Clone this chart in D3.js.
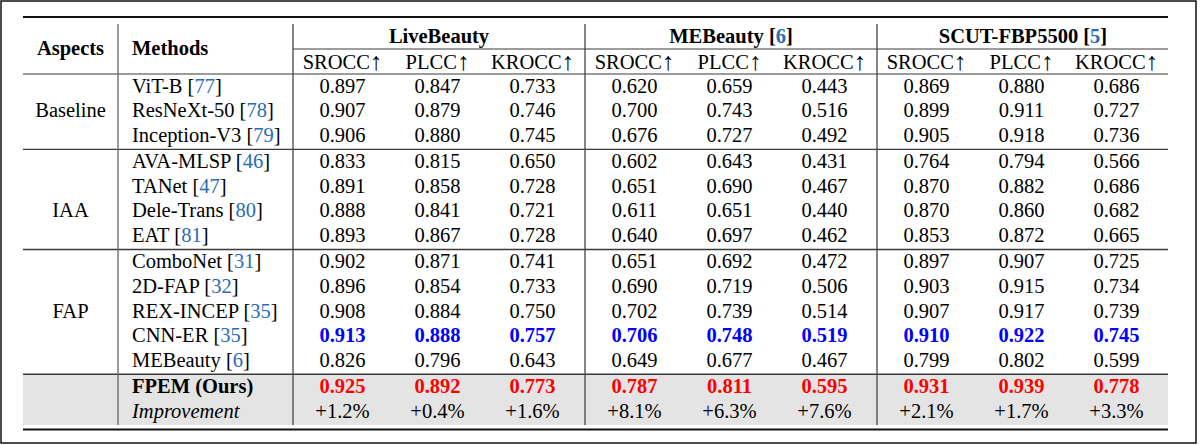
<!DOCTYPE html>
<html><head><meta charset="utf-8">
<script src="https://cdn.jsdelivr.net/npm/d3@7/dist/d3.min.js"></script>
<style>
html,body{margin:0;padding:0;background:#fff;}
svg{display:block;}
text{font-family:"Liberation Serif","Times New Roman",serif;font-size:20.5px;fill:#000;}
</style></head>
<body>
<script>
// ---------- data ----------
const datasets = ["LiveBeauty", "MEBeauty", "SCUT-FBP5500"];
const datasetCites = [null, "6", "5"];
const metrics = ["SROCC", "PLCC", "KROCC"];
const arrow = "↑";
const aspects = ["Baseline", "IAA", "FAP"];
const aspectSizes = [3, 4, 5];
const aspectLabelRow = [1, 2, 2];
const methods = ["ViT-B", "ResNeXt-50", "Inception-V3", "AVA-MLSP", "TANet", "Dele-Trans", "EAT",
  "ComboNet", "2D-FAP", "REX-INCEP", "CNN-ER", "MEBeauty"];
const methodCites = ["77", "78", "79", "46", "47", "80", "81", "31", "32", "35", "35", "6"];
const oursName = "FPEM (Ours)";
const improvementName = "Improvement";

const liveSROCC = [0.897, 0.907, 0.906, 0.833, 0.891, 0.888, 0.893, 0.902, 0.896, 0.908, 0.913, 0.826];
const livePLCC  = [0.847, 0.879, 0.880, 0.815, 0.858, 0.841, 0.867, 0.871, 0.854, 0.884, 0.888, 0.796];
const liveKROCC = [0.733, 0.746, 0.745, 0.650, 0.728, 0.721, 0.728, 0.741, 0.733, 0.750, 0.757, 0.643];
const meSROCC   = [0.620, 0.700, 0.676, 0.602, 0.651, 0.611, 0.640, 0.651, 0.690, 0.702, 0.706, 0.649];
const mePLCC    = [0.659, 0.743, 0.727, 0.643, 0.690, 0.651, 0.697, 0.692, 0.719, 0.739, 0.748, 0.677];
const meKROCC   = [0.443, 0.516, 0.492, 0.431, 0.467, 0.440, 0.462, 0.472, 0.506, 0.514, 0.519, 0.467];
const scutSROCC = [0.869, 0.899, 0.905, 0.764, 0.870, 0.870, 0.853, 0.897, 0.903, 0.907, 0.910, 0.799];
const scutPLCC  = [0.880, 0.911, 0.918, 0.794, 0.882, 0.860, 0.872, 0.907, 0.915, 0.917, 0.922, 0.802];
const scutKROCC = [0.686, 0.727, 0.736, 0.566, 0.686, 0.682, 0.665, 0.725, 0.734, 0.739, 0.745, 0.599];
const oursValues = [0.925, 0.892, 0.773, 0.787, 0.811, 0.595, 0.931, 0.939, 0.778];
const improvements = ["+1.2%", "+0.4%", "+1.6%", "+8.1%", "+6.3%", "+7.6%", "+2.1%", "+1.7%", "+3.3%"];
const secondBestRow = 10; // CNN-ER

const columns = [liveSROCC, livePLCC, liveKROCC, meSROCC, mePLCC, meKROCC, scutSROCC, scutPLCC, scutKROCC];

// ---------- layout ----------
const W = 1200, H = 445;
const L = 23, R = 1168;
const xAspectR = 118, xMethodR = 293;
const headerBottom = 74;
const pitch = 24.7, firstOff = 11.5, lastPad = 14.5;
const citeColor = "#2b6cb5", blue = "#0000ff", red = "#ff0000";
const lineColor = "#3a3a3a";

const svg = d3.select("body").append("svg").attr("width", W).attr("height", H);

// dataset / metric scales
const xGroup = d3.scaleBand().domain(datasets).range([xMethodR, R + 1]);
const xMetric = d3.scaleBand().domain(metrics).range([2, xGroup.bandwidth() - 5]);
const colX = (ci) => xGroup(datasets[Math.floor(ci / 3)]) + xMetric(metrics[ci % 3]) + xMetric.bandwidth() / 2;

// row y positions
const groupTops = [];
const rowY = [];
let curTop = headerBottom;
aspectSizes.forEach((n, g) => {
  groupTops.push(curTop);
  const ys = d3.scaleLinear().domain([0, 1]).range([curTop + firstOff, curTop + firstOff + pitch]);
  for (let i = 0; i < n; i++) rowY.push(ys(i));
  curTop = ys(n - 1) + lastPad;
});
const oursTop = curTop;
const ysOurs = d3.scaleLinear().domain([0, 1]).range([oursTop + firstOff, oursTop + firstOff + pitch]);
const oursY = ysOurs(0), impY = ysOurs(1);
const grayBottom = impY + lastPad;

// outer frame
svg.append("rect").attr("x", 1).attr("y", 1).attr("width", 1195).attr("height", 442)
  .attr("fill", "none").attr("stroke", "#111").attr("stroke-width", 1.5);

// gray background for ours
svg.append("rect").attr("x", L).attr("y", oursTop).attr("width", R - L).attr("height", grayBottom - oursTop)
  .attr("fill", "#e4e4e4");

// horizontal rules
const hline = (y, x1, x2, w, c) => svg.append("line").attr("x1", x1).attr("x2", x2).attr("y1", y).attr("y2", y)
  .attr("stroke", c).attr("stroke-width", w);
hline(17, L, R, 2, "#111");
hline(49, xMethodR, R, 1, lineColor);
hline(headerBottom, L, R, 1.2, lineColor);
groupTops.slice(1).forEach(t => hline(t, L, R, 1.4, lineColor));
hline(oursTop, L, R, 1.4, lineColor);
hline(429.5, L, R, 2.2, "#111");

// vertical rules
const vx = [xAspectR, xMethodR, xGroup(datasets[1]), xGroup(datasets[2])];
vx.forEach((x, i) => svg.append("line").attr("x1", x).attr("x2", x).attr("y1", 24).attr("y2", grayBottom)
  .attr("stroke", i === 0 ? "#666" : "#444").attr("stroke-width", 1.3));

// header text
const txt = (x, y, anchor) => svg.append("text").attr("x", x).attr("y", y).attr("dy", "0.35em").attr("text-anchor", anchor);
txt((L + xAspectR) / 2, 48, "middle").attr("font-weight", "bold").text("Aspects");
txt(132, 48, "start").attr("font-weight", "bold").text("Methods");
datasets.forEach((d, i) => {
  const t = txt(xGroup(d) + xGroup.bandwidth() / 2, 36, "middle").attr("font-weight", "bold");
  t.append("tspan").text(d);
  if (datasetCites[i]) {
    t.append("tspan").text(" [");
    t.append("tspan").style("fill", citeColor).text(datasetCites[i]);
    t.append("tspan").text("]");
  }
  metrics.forEach((m, j) => {
    const s = txt(colX(i * 3 + j), 61.5, "middle");
    s.append("tspan").text(m);
    s.append("tspan").attr("font-size", "25px").attr("dy", "1").text(arrow);
  });
});

// aspect labels
let startRow = 0;
aspects.forEach((a, g) => {
  txt((L + xAspectR) / 2, rowY[startRow + aspectLabelRow[g]], "middle").text(a);
  startRow += aspectSizes[g];
});

// method names
methods.forEach((m, i) => {
  const t = txt(132, rowY[i], "start");
  t.append("tspan").text(m + " [");
  t.append("tspan").style("fill", citeColor).text(methodCites[i]);
  t.append("tspan").text("]");
});
txt(132, oursY, "start").attr("font-weight", "bold").text(oursName);
txt(132, impY, "start").attr("font-style", "italic").text(improvementName);

// values
const fmt = d3.format(".3f");
columns.forEach((col, ci) => {
  col.forEach((v, ri) => {
    const t = txt(colX(ci), rowY[ri], "middle").text(fmt(v));
    if (ri === secondBestRow) t.attr("font-weight", "bold").style("fill", blue);
  });
  txt(colX(ci), oursY, "middle").attr("font-weight", "bold").style("fill", red).text(fmt(oursValues[ci]));
  txt(colX(ci), impY, "middle").text(improvements[ci]);
});
</script>
</body></html>
